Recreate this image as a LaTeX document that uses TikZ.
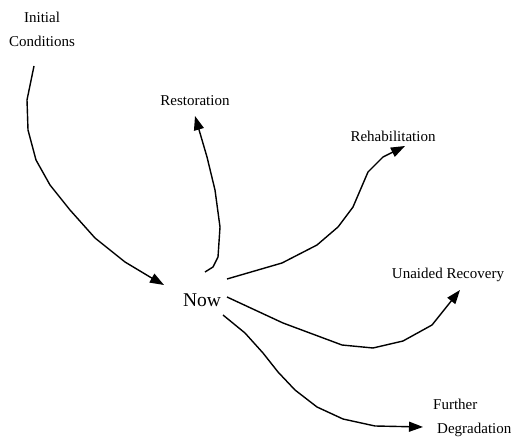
\documentclass[tikz,border=0pt]{standalone}
\usepackage{fontspec}
\setmainfont{Liberation Serif}
\usetikzlibrary{arrows.meta}
\begin{document}
\begin{tikzpicture}[x=1pt,y=-1pt,
  lbl/.style={inner sep=0pt,font=\fontsize{15}{24}\selectfont,align=center},
  conn/.style={line width=1.4pt,-{Triangle[length=14pt,width=10pt]},line join=round}]
\useasboundingbox (0,0) rectangle (511,438);
\node[lbl] (init) at (42,29) {Initial\\Conditions};
\node[lbl] (rest) at (195,101) {Restoration};
\node[lbl] (rehab) at (393,136) {Rehabilitation};
\node[lbl] (unaid) at (448,275) {Unaided Recovery};
\node[inner sep=0pt,font=\fontsize{19.5}{24}\selectfont] (now) at (202,300) {Now};
\node[lbl,align=left,anchor=west] (further) at (433,418) {Further\\\hspace*{4pt}Degradation};
% connector end points
\coordinate (i0) at (34,66);
\coordinate (i1) at (164,285);
\coordinate (r0) at (205,272);
\coordinate (r1) at (195,116);
\coordinate (h0) at (227,279);
\coordinate (h1) at (405,146);
\coordinate (u0) at (227,297);
\coordinate (u1) at (460,290);
\coordinate (f0) at (223,315);
\coordinate (f1) at (423,427);
\draw[conn] (i0) -- (27,100) -- (28,130) -- (36,160) -- (50,185) -- (70,210) -- (95,238) -- (125,262) -- (150,277) -- (i1);
\draw[conn] (r0) -- (213,267) -- (218,257) -- (220,227) -- (215,190) -- (207,157) -- (r1);
\draw[conn] (h0) -- (282,263) -- (317,245) -- (338,227) -- (353,207) -- (368,172) -- (383,157) -- (h1);
\draw[conn] (u0) -- (283,323) -- (342,345) -- (373,348) -- (403,341) -- (432,325) -- (u1);
\draw[conn] (f0) -- (245,333) -- (263,353) -- (278,372) -- (295,390) -- (317,407) -- (343,419) -- (375,426) -- (f1);
\end{tikzpicture}
\end{document}
